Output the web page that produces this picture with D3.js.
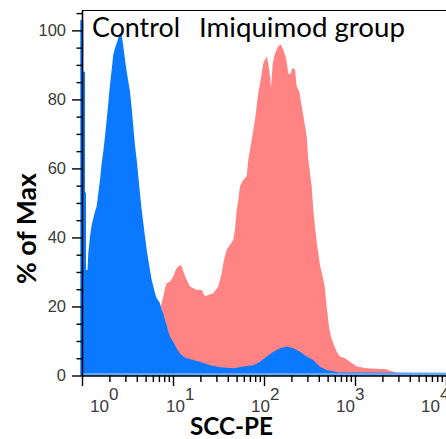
<!DOCTYPE html>
<html>
<head>
<meta charset="utf-8">
<script src="https://cdn.jsdelivr.net/npm/d3@7"></script>
<style>
  html, body { margin: 0; padding: 0; background: #fff; }
  svg { display: block; }
</style>
</head>
<body>
<svg id="chart" width="446" height="439"></svg>
<script>
// ---------------- data ----------------
// x positions are log10(SCC-PE); y values are % of Max
const ctrlLogSCC = [-0.03, 0.003, 0.003, 0.022, 0.022, 0.033, 0.033, 0.049, 0.058, 0.077, 0.095, 0.114, 0.132, 0.150, 0.168, 0.187, 0.205, 0.223, 0.242, 0.260, 0.278, 0.297, 0.315, 0.333, 0.352, 0.370, 0.388, 0.407, 0.425, 0.443, 0.462, 0.480, 0.498, 0.516, 0.535, 0.553, 0.571, 0.590, 0.608, 0.626, 0.645, 0.663, 0.681, 0.700, 0.718, 0.736, 0.755, 0.773, 0.791, 0.810, 0.846, 0.865, 0.883, 0.901, 0.919, 0.938, 0.956, 0.992, 1.029, 1.066, 1.103, 1.139, 1.212, 1.286, 1.396, 1.505, 1.652, 1.762, 1.872, 1.945, 2.018, 2.092, 2.165, 2.238, 2.311, 2.385, 2.458, 2.531, 2.604, 2.678, 2.806, 3.99];
const ctrlPct = [103, 103, 88, 88, 53, 53, 30.6, 30.6, 35.4, 40.3, 43.6, 45.6, 47.5, 49.0, 52.8, 56.7, 61.5, 64.9, 69.3, 74.1, 78.9, 84.3, 88.6, 93.0, 94.9, 96.3, 97.8, 99.2, 98.8, 95.4, 91.5, 88.1, 85.2, 82.3, 77.5, 72.2, 66.8, 62.5, 57.7, 52.8, 48.0, 44.1, 40.3, 36.4, 33.5, 30.6, 27.7, 25.8, 23.8, 22.4, 20.9, 19.0, 18.0, 16.1, 14.6, 12.7, 11.3, 9.8, 7.9, 6.4, 5.5, 5.0, 4.5, 4.0, 3.0, 2.4, 2.1, 2.6, 3.0, 4.0, 5.5, 6.9, 7.9, 8.4, 7.9, 6.9, 5.5, 4.5, 2.5, 1.6, 0.9, 0.8];

const imqLogSCC = [-0.02, 0.2, 0.4, 0.6, 0.75, 0.85, 0.883, 0.901, 0.919, 0.956, 0.992, 1.011, 1.029, 1.066, 1.085, 1.103, 1.139, 1.176, 1.212, 1.249, 1.304, 1.341, 1.377, 1.432, 1.487, 1.524, 1.549, 1.579, 1.615, 1.652, 1.670, 1.689, 1.707, 1.725, 1.762, 1.799, 1.816, 1.854, 1.890, 1.926, 1.964, 1.981, 2.019, 2.036, 2.055, 2.066, 2.085, 2.110, 2.146, 2.173, 2.201, 2.231, 2.256, 2.275, 2.304, 2.330, 2.348, 2.377, 2.403, 2.429, 2.458, 2.476, 2.513, 2.531, 2.549, 2.575, 2.604, 2.634, 2.656, 2.678, 2.703, 2.725, 2.751, 2.788, 2.824, 2.879, 2.934, 2.971, 3.008, 3.118, 3.338, 3.374, 3.447, 3.99];
const imqPct = [0.5, 2, 4, 8, 14, 19.5, 22.9, 25.3, 26.7, 27.2, 28.7, 30.1, 31.1, 32.0, 31.6, 30.1, 27.7, 25.8, 25.3, 24.8, 24.8, 22.9, 23.3, 23.8, 25.8, 29.6, 33.5, 36.4, 37.8, 39.3, 42.2, 48.0, 50.9, 54.8, 56.7, 57.7, 62.5, 68.3, 74.1, 81.8, 87.6, 90.5, 92.5, 90.5, 86.7, 83.3, 90.5, 93.4, 95.4, 95.9, 94.4, 92.0, 87.6, 87.2, 89.1, 88.6, 83.8, 82.3, 78.0, 74.1, 69.3, 62.5, 54.8, 48.0, 43.2, 37.4, 32.0, 28.7, 25.8, 20.0, 14.2, 11.3, 9.3, 6.9, 5.5, 5.0, 4.0, 3.3, 2.6, 2.1, 1.8, 1.4, 0.8, 0.4];

const seriesNames = ["Control", "Imiquimod group"];
const xMajorTicks = [1, 10, 100, 1000, 10000];
const xTickExponents = ["0", "1", "2", "3", "4"];
const yMajorTicks = [0, 20, 40, 60, 80, 100];
const xTitle = "SCC-PE";
const yTitle = "% of Max";

// ---------------- layout ----------------
const svg = d3.select("#chart");
const colors = { ctrl: "#0a78ff", imq: "#ff8383" };

const x = d3.scaleLog().domain([1, 1e4]).range([83, 447]);
const y = d3.scaleLinear().domain([0, 105.9]).range([375.5, 10]);
const axisX0 = x(1) - 1;

const toPts = (lx, p) => lx.map((e, i) => ({ v: Math.pow(10, e), p: p[i] }));
const ctrlData = toPts(ctrlLogSCC, ctrlPct);
const imqData = toPts(imqLogSCC, imqPct);

const area = d3.area()
  .x(d => x(d.v))
  .y0(y(0))
  .y1(d => y(d.p))
  .curve(d3.curveLinear);

svg.append("path").datum(imqData).attr("d", area).attr("fill", colors.imq);
svg.append("path").datum(ctrlData).attr("d", area).attr("fill", colors.ctrl);

// thin light line along baseline
svg.append("line")
  .attr("x1", axisX0).attr("x2", 446)
  .attr("y1", y(0) - 1.5).attr("y2", y(0) - 1.5)
  .attr("stroke", "#bcd8ff").attr("stroke-width", 1.2);

// top border
svg.append("line")
  .attr("x1", axisX0).attr("x2", 446)
  .attr("y1", 10.5).attr("y2", 10.5)
  .attr("stroke", "#000").attr("stroke-width", 1.2);

// ---------------- y axis ----------------
const yTickVals = d3.range(0, 106, 5);
const yAxis = d3.axisLeft(y)
  .tickValues(yTickVals)
  .tickSizeOuter(0)
  .tickFormat(d => yMajorTicks.includes(d) ? String(d) : "");
const gy = svg.append("g").attr("transform", `translate(${axisX0},0)`).call(yAxis);
gy.select(".domain").attr("stroke", "#000").attr("stroke-width", 1.6);
gy.selectAll(".tick line")
  .attr("x2", d => yMajorTicks.includes(d) ? -10 : -5.5)
  .attr("stroke", "#000").attr("stroke-width", 1.4);
gy.selectAll(".tick text")
  .attr("x", -16)
  .attr("font-family", "Liberation Sans, Arial, sans-serif")
  .attr("font-size", "16.5px")
  .attr("fill", "#3a3a3a");

// ---------------- x axis ----------------
const xTickVals = [];
for (let dec = 1; dec < 1e4; dec *= 10) {
  for (let k = 1; k <= 9; k++) xTickVals.push(dec * k);
}
xTickVals.push(1e4);
const xAxis = d3.axisBottom(x)
  .tickValues(xTickVals)
  .tickSizeOuter(0)
  .tickFormat("");
const gx = svg.append("g").attr("transform", `translate(-1,${y(0)})`).call(xAxis);
gx.select(".domain").attr("stroke", "#000").attr("stroke-width", 1.6);
gx.selectAll(".tick line")
  .attr("y2", d => xMajorTicks.includes(d) ? 10.5 : 6.5)
  .attr("stroke", "#000").attr("stroke-width", 1.4);

// x tick labels "10^k" (positions of reference labels drift slightly from ticks)
const labelX = d3.scaleLog().domain([10, 1e4]).range([166, 421]);
const gxl = svg.append("g")
  .attr("font-family", "Liberation Sans, Arial, sans-serif")
  .attr("font-size", "17px")
  .attr("fill", "#3a3a3a");
xMajorTicks.forEach((v, i) => {
  const sx = Math.max(labelX(v), 90);
  const t = gxl.append("text").attr("x", sx).attr("y", 412);
  t.append("tspan").text("10");
  t.append("tspan").attr("dy", -12).text(xTickExponents[i]);
});

// ---------------- titles ----------------
function fitText(sel, targetW) {
  const w = sel.node().getComputedTextLength();
  const fs = parseFloat(sel.attr("font-size"));
  sel.attr("font-size", (fs * targetW / w).toFixed(2) + "px");
}

const xt = svg.append("text")
  .attr("x", 190).attr("y", 435)
  .attr("font-family", "Lato, 'Open Sans', sans-serif")
  .attr("font-weight", "bold")
  .attr("font-size", "22px")
  .attr("fill", "#000")
  .text(xTitle);
fitText(xt, 83);

const yt = svg.append("text")
  .attr("transform", "translate(36,284) rotate(-90)")
  .attr("x", 0).attr("y", 0)
  .attr("font-family", "Lato, 'Open Sans', sans-serif")
  .attr("font-weight", "bold")
  .attr("font-size", "24px")
  .attr("fill", "#000")
  .text(yTitle);
fitText(yt, 111);

const c1 = svg.append("text")
  .attr("x", 92).attr("y", 37)
  .attr("font-family", "Lato, 'Open Sans', sans-serif")
  .attr("font-size", "24px")
  .attr("fill", "#000")
  .text(seriesNames[0]);
fitText(c1, 88);

const c2 = svg.append("text")
  .attr("x", 199).attr("y", 37)
  .attr("font-family", "Lato, 'Open Sans', sans-serif")
  .attr("font-size", "24px")
  .attr("fill", "#000")
  .text(seriesNames[1]);
fitText(c2, 206);
</script>
</body>
</html>
